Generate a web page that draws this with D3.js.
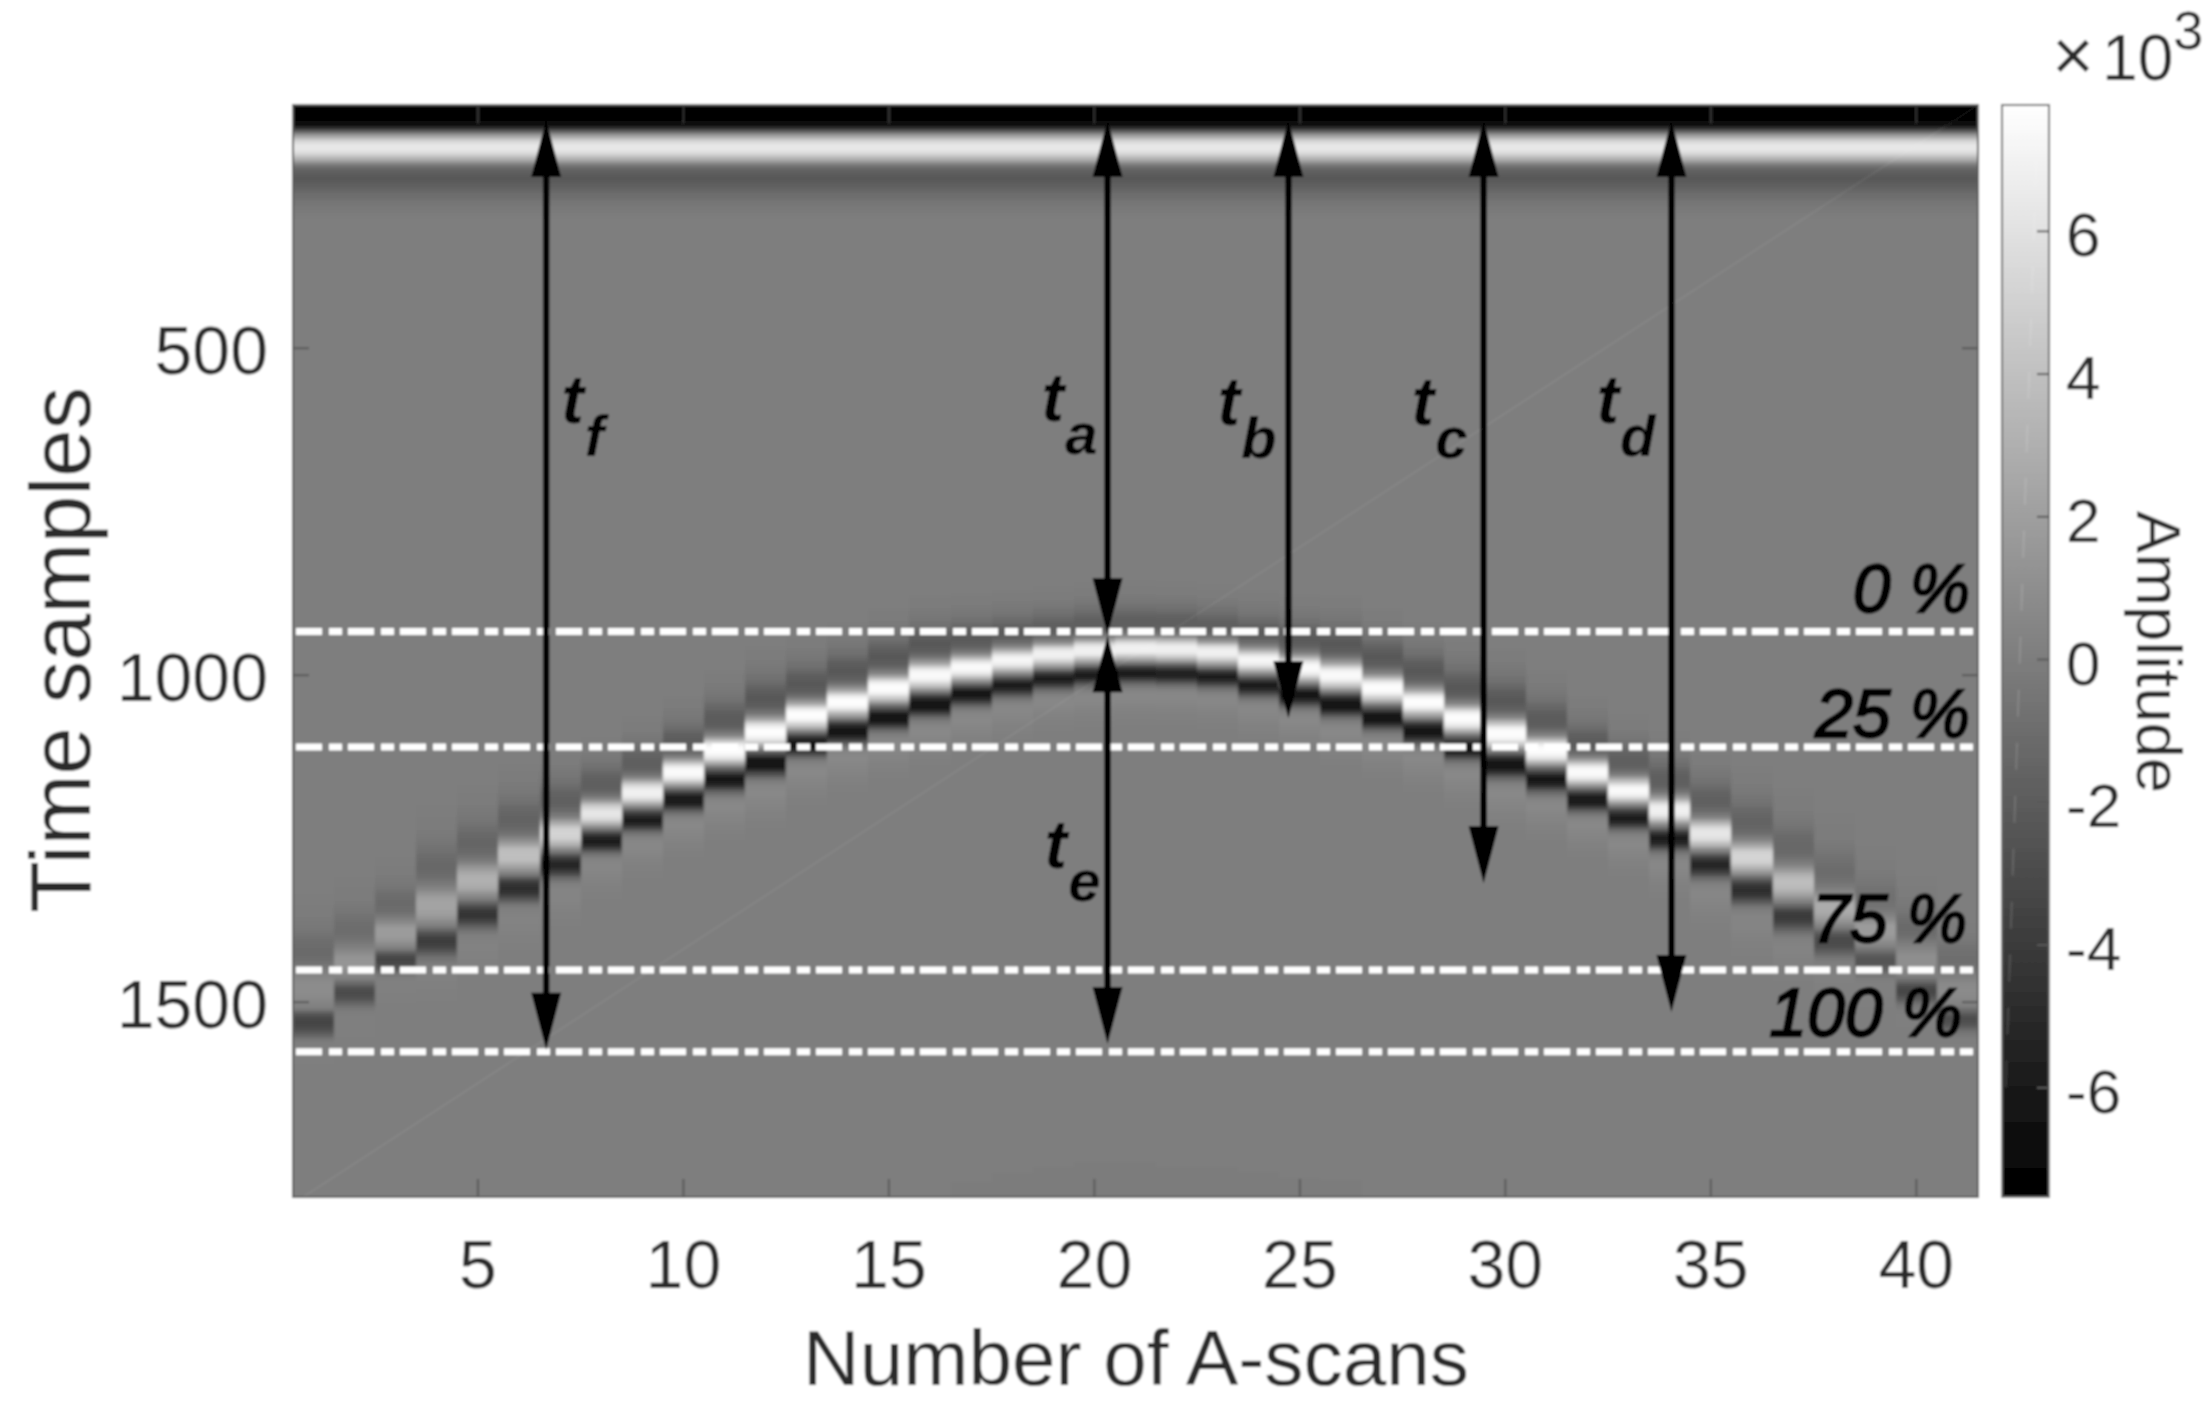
<!DOCTYPE html>
<html><head><meta charset="utf-8">
<script src="https://cdnjs.cloudflare.com/ajax/libs/d3/7.8.5/d3.min.js"></script>
<style>html,body{margin:0;padding:0;background:#fff}svg{display:block}text{font-family:"Liberation Sans",Arial,sans-serif}</style>
</head><body><div id="chart"></div>
<script>
// ---------- data ----------
const xTicks = [5,10,15,20,25,30,35,40];
const yTicks = [500,1000,1500];
const cbTicks = [-6,-4,-2,0,2,4,6];
const aScans = [1,2,3,4,5,6,7,8,9,10,11,12,13,14,15,16,17,18,19,20,21,22,23,24,25,26,27,28,29,30,31,32,33,34,35,36,37,38,39,40,41];
// sample of the bright crest in every A-scan
const arrival = [1479,1439,1394,1352,1313,1275,1242,1211,1179,1148,1115,1087,1061,1041,1020,1000,988,977,968,962,959,960,965,977,989,1000,1020,1041,1066,1089,1115,1148,1176,1206,1242,1278,1317,1355,1390,1436,1482];
// crest and trough amplitude (x10^3) in every A-scan
const crestAmp = [0.9,1.4,1.8,2.3,3.0,4.0,5.2,6.3,7.0,7.5,7.7,7.7,7.7,7.7,7.7,7.5,7.5,7.3,7.0,7.0,7.0,7.0,7.0,7.3,7.5,7.5,7.7,7.7,7.7,7.7,7.7,7.5,7.5,7.0,6.3,5.2,3.8,2.8,1.8,1.0,0.8];
const troughAmp = [3.6,3.1,3.6,4.0,4.6,5.0,5.5,6.0,6.0,6.3,6.5,6.8,6.8,6.8,6.8,6.8,6.6,6.2,6.0,6.0,6.0,6.0,6.0,6.2,6.6,6.8,6.8,6.8,6.8,6.8,6.5,6.3,6.0,6.0,5.5,5.0,4.2,3.2,2.6,3.5,3.0];
// pulse width relative to the reference pulse
const pulseWidth = [1.18,1.07,0.95,1.25,1.18,1.14,1.07,0.95,0.95,0.95,1.0,1.07,1.0,1.0,1.0,1.0,0.93,0.88,0.85,0.85,0.85,0.85,0.85,0.88,0.93,1.0,1.0,1.0,1.0,1.07,1.0,0.95,0.95,0.98,1.07,1.14,1.18,1.18,1.05,1.05,1.0];
// reference pulse: sample offset from crest, normalised value
const pulseOffset = [-125,-120,-115,-110,-105,-100,-95,-90,-85,-80,-75,-70,-65,-60,-55,-50,-45,-40,-35,-30,-25,-20,-15,-10,-5,0,5,10,15,20,25,30,35,40,45,50,55,60,65,70,75,80,85,90,95,100,105,110,115,120,125,130,135,140,145,150];
const pulseValue = [0,-.005,-.01,-.015,-.02,-.03,-.04,-.055,-.07,-.10,-.13,-.17,-.22,-.27,-.30,-.32,-.32,-.30,-.25,-.15,-.02,.2,.5,.8,.97,1,.97,.85,.6,.3,0,-.35,-.7,-.92,-.95,-.9,-.7,-.42,-.18,-.03,.04,.07,.08,.08,.07,.06,.05,.04,.03,.025,.02,.015,.01,.005,0,0];
// direct wave band across all A-scans
const bandSample = [128,133,138,143,148,153,158,163,168,173,178,183,188,193,198,203,208,213,218,223,228,233,238,243,248,253,258,263,268,273,278,283,288,293,298,303];
const bandValue = [-7.5,-7.5,-7.5,-7.5,-7.4,-7.0,-6.2,-3.8,-1,2,4.4,5.8,6.3,6.3,5.8,4.6,3,1,-.6,-1.4,-1.9,-2.1,-2.2,-2.1,-1.9,-1.6,-1.3,-1.0,-.8,-.6,-.45,-.3,-.2,-.12,-.06,0];
// faint late echo at the foot of the picture
const echoScan = [17,18,19,20,21,22,23,24,25,26];
const echoStart = [1775,1761,1752,1745,1745,1752,1752,1760,1769,1772];
const echoValue = -0.15;
// dash-dot depth lines
const depthNames = ["0 %","25 %","75 %","100 %"];
const depthSample = [933,1110,1451,1576];
// arrows
const arrowNames = ["f","a","e","b","c","d"];
const arrowScan = [6.66,20.32,20.32,24.72,29.47,34.04];
const arrowFrom = [151,151,939,151,151,151];
const arrowTo = [1573,939,1564,1066,1318,1515];

// ---------- layout ----------
const W=2212,H=1404;
const plot={l:293,r:1978,t:105,b:1197};
const cb={l:2002,r:2049,t:105,b:1197};
const sampleDomain=[128,1798], scanDomain=[0.5,41.5], ampDomain=[-7.53,7.77];
const x=d3.scaleLinear().domain(scanDomain).range([plot.l,plot.r]);
const y=d3.scaleLinear().domain(sampleDomain).range([plot.t,plot.b]);
const cbY=d3.scaleLinear().domain(ampDomain).range([cb.b,cb.t]);
const gray=d3.scaleLinear().domain(ampDomain).range([0,255]).clamp(true);
const col=v=>{const g=Math.round(gray(v));return `rgb(${g},${g},${g})`};
const ink="#2a2a2a", edge="#5a5a5a";

const svg=d3.select("#chart").append("svg").attr("width",W).attr("height",H).attr("viewBox",`0 0 ${W} ${H}`);
const defs=svg.append("defs");
const addBlur=(id,s)=>defs.append("filter").attr("id",id).attr("filterUnits","userSpaceOnUse").attr("x",0).attr("y",0).attr("width",W).attr("height",H)
  .append("feGaussianBlur").attr("stdDeviation",s);
addBlur("soft",0.9);
addBlur("softer","1.1 1.5");
defs.append("clipPath").attr("id","plotClip").append("rect").attr("x",plot.l).attr("y",plot.t).attr("width",plot.r-plot.l).attr("height",plot.b-plot.t);
const grad=defs.append("linearGradient").attr("id","cbGrad").attr("x1",0).attr("x2",0).attr("y1",1).attr("y2",0);
grad.append("stop").attr("offset",0).attr("stop-color",col(ampDomain[0]));
grad.append("stop").attr("offset",1).attr("stop-color",col(ampDomain[1]));

const root=svg.append("g").attr("filter","url(#soft)");
root.append("rect").attr("width",W).attr("height",H).attr("fill","#fff");

// heat map
const heatClip=root.append("g").attr("clip-path","url(#plotClip)");
const heat=heatClip.append("g").attr("filter","url(#softer)");
heat.append("rect").attr("x",plot.l-8).attr("y",plot.t-8).attr("width",plot.r-plot.l+16).attr("height",plot.b-plot.t+16).attr("fill",col(0));
heat.append("rect").attr("x",plot.l-8).attr("y",plot.t-8).attr("width",plot.r-plot.l+16).attr("height",10).attr("fill",col(bandValue[0]));
heat.append("g").selectAll("rect").data(bandSample.map((s,i)=>({s,v:bandValue[i]}))).join("rect")
  .attr("shape-rendering","crispEdges")
  .attr("x",plot.l-8).attr("width",plot.r-plot.l+16)
  .attr("y",d=>y(d.s)).attr("height",d=>y(d.s+5)-y(d.s)+0.6).attr("fill",d=>col(d.v));
heat.append("g").selectAll("rect").data(echoScan.map((c,i)=>({c,s:echoStart[i]}))).join("rect")
  .attr("shape-rendering","crispEdges")
  .attr("x",d=>x(d.c-.5)).attr("width",d=>x(d.c+.5)-x(d.c-.5))
  .attr("y",d=>y(d.s)).attr("height",d=>plot.b+8-y(d.s)).attr("fill",col(echoValue));
const cols=heat.append("g").selectAll("g").data(aScans.map((c,i)=>({c,i}))).join("g");
cols.selectAll("rect").data(d=>pulseOffset.map((o,k)=>{
    const p=pulseValue[k];
    return {c:d.c,w:pulseWidth[d.i],s:arrival[d.i]+o*pulseWidth[d.i],v:p>=0?p*crestAmp[d.i]:p*troughAmp[d.i]};
  })).join("rect")
  .attr("shape-rendering","crispEdges")
  .attr("x",d=>x(d.c-.5)).attr("width",d=>x(d.c+.5)-x(d.c-.5))
  .attr("y",d=>y(d.s-2.5*d.w)).attr("height",d=>y(d.s+2.5*d.w)-y(d.s-2.5*d.w)+0.6)
  .attr("fill",d=>col(d.v));
// faint diagonal seam of the figure
heatClip.append("line").attr("x1",x(0.75)).attr("y1",y(sampleDomain[1])).attr("x2",x(scanDomain[1])).attr("y2",y(sampleDomain[0]))
  .attr("stroke","#fff").attr("stroke-opacity",.08).attr("stroke-width",1.5);

// ticks inside the box
const ticks=root.append("g").attr("stroke",edge).attr("stroke-width",2);
xTicks.forEach(t=>{
  ticks.append("line").attr("x1",x(t)).attr("x2",x(t)).attr("y1",plot.b).attr("y2",plot.b-18);
  ticks.append("line").attr("x1",x(t)).attr("x2",x(t)).attr("y1",plot.t).attr("y2",plot.t+18).attr("stroke-opacity",.6);
});
yTicks.forEach(t=>{
  ticks.append("line").attr("y1",y(t)).attr("y2",y(t)).attr("x1",plot.l).attr("x2",plot.l+16);
  ticks.append("line").attr("y1",y(t)).attr("y2",y(t)).attr("x1",plot.r).attr("x2",plot.r-16);
});
root.append("rect").attr("x",plot.l).attr("y",plot.t).attr("width",plot.r-plot.l).attr("height",plot.b-plot.t)
  .attr("fill","none").attr("stroke",edge).attr("stroke-width",2);

// depth lines
root.append("g").selectAll("line").data(depthSample).join("line")
  .attr("x1",plot.l+3).attr("x2",plot.r-5).attr("y1",d=>y(d)).attr("y2",d=>y(d))
  .attr("stroke","#fff").attr("stroke-width",7).attr("stroke-dasharray","26 7 13 6");

// arrows
const headLen=57, headHalf=15;
const arrows=root.append("g");
arrowNames.forEach((n,i)=>{
  const ax=x(arrowScan[i]), y0=y(arrowFrom[i]), y1=y(arrowTo[i]);
  arrows.append("line").attr("x1",ax).attr("x2",ax).attr("y1",y0+headLen-2).attr("y2",y1-headLen+2)
    .attr("stroke","#000").attr("stroke-width",6.5);
  arrows.append("path").attr("fill","#000").attr("d",`M${ax},${y0}L${ax+headHalf},${y0+headLen}L${ax-headHalf},${y0+headLen}Z`);
  arrows.append("path").attr("fill","#000").attr("d",`M${ax},${y1}L${ax+headHalf},${y1-headLen}L${ax-headHalf},${y1-headLen}Z`);
});

// t labels
const tLabelDx={f:15,a:-66,e:-63,b:-71,c:-72,d:-75};
const tLabelBase={f:423,a:421,e:868,b:425,c:425,d:423};
arrowNames.forEach((n,i)=>{
  const t=root.append("text").attr("x",x(arrowScan[i])+tLabelDx[n]).attr("y",tLabelBase[n])
    .attr("font-style","italic").attr("font-weight","bold").attr("font-size",68).attr("fill","#000");
  t.append("tspan").text("t");
  t.append("tspan").attr("dx",1).attr("dy",33).attr("font-size",58).text(n);
});

// depth labels
const depthBase=[612,737,942,1036], depthRight=[1970,1970,1967,1962];
root.append("g").selectAll("text").data(depthNames).join("text")
  .attr("x",(d,i)=>depthRight[i]).attr("y",(d,i)=>depthBase[i]).attr("text-anchor","end")
  .attr("font-style","italic").attr("font-size",68).attr("fill","#000").attr("stroke","#000").attr("stroke-width",2.4)
  .text(d=>d);

// axis numbers
const tickSize=68;
root.append("g").selectAll("text").data(xTicks).join("text")
  .attr("x",d=>x(d)).attr("y",1288).attr("text-anchor","middle").attr("font-size",tickSize).attr("fill",ink).text(d=>d);
root.append("g").selectAll("text").data(yTicks).join("text")
  .attr("x",268).attr("y",d=>y(d)+26).attr("text-anchor","end").attr("font-size",tickSize).attr("fill",ink).text(d=>d);
root.append("text").attr("x",1136).attr("y",1385).attr("text-anchor","middle").attr("font-size",78.3).attr("fill",ink).text("Number of A-scans");
root.append("text").attr("transform","translate(90,650) rotate(-90)").attr("text-anchor","middle").attr("font-size",85).attr("fill",ink).text("Time samples");

// colour bar
root.append("rect").attr("x",cb.l).attr("y",cb.t).attr("width",cb.r-cb.l).attr("height",cb.b-cb.t).attr("fill","url(#cbGrad)");
root.append("line").attr("x1",2038).attr("y1",cbY(6.2)-110).attr("x2",2005).attr("y2",cb.b-90)
  .attr("stroke","#fff").attr("stroke-opacity",.14).attr("stroke-width",1.8).attr("stroke-dasharray","27 26");
root.append("rect").attr("x",cb.l).attr("y",cb.t).attr("width",cb.r-cb.l).attr("height",cb.b-cb.t)
  .attr("fill","none").attr("stroke","#6a6a6a").attr("stroke-width",2);
root.append("g").selectAll("line").data(cbTicks).join("line")
  .attr("x1",cb.r).attr("x2",cb.r-12).attr("y1",d=>cbY(d)).attr("y2",d=>cbY(d)).attr("stroke",edge).attr("stroke-width",2);
root.append("g").selectAll("text").data(cbTicks).join("text")
  .attr("x",2066).attr("y",d=>cbY(d)+25).attr("font-size",62).attr("fill",ink).text(d=>d);
root.append("text").attr("transform","translate(2137,652) rotate(90)").attr("text-anchor","middle").attr("font-size",63.5).attr("fill",ink).text("Amplitude");
const ex=root.append("text").attr("x",2052).attr("y",80).attr("font-size",64).attr("fill",ink);
ex.append("tspan").attr("font-size",72).text("×");
ex.append("tspan").attr("dx",8).text("10");
ex.append("tspan").attr("dy",-31).attr("font-size",54).text("3");
</script></body></html>
